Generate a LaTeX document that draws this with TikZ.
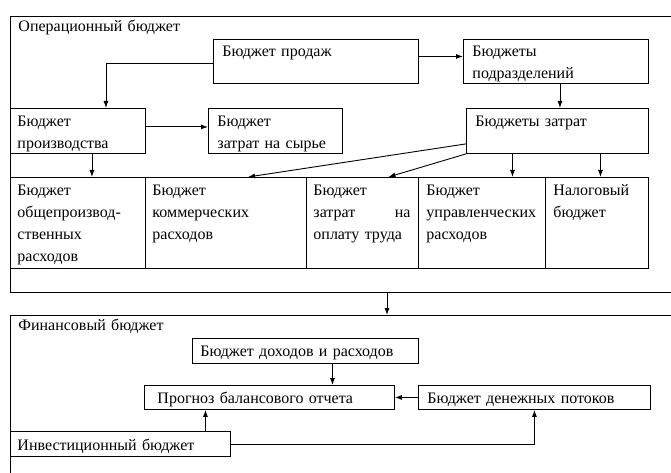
\documentclass[tikz,border=0pt]{standalone}
\usepackage{fontspec}
\setmainfont{Liberation Serif}
\usetikzlibrary{arrows.meta}
\begin{document}
\begin{tikzpicture}[x=1pt,y=-1pt,line width=0.9pt,>={Latex[length=7pt,width=5pt]},
    box/.style={draw, anchor=north west, inner sep=0pt},
    txt/.style={anchor=base west, align=left, inner sep=0pt, text width=#1},
    txt/.default=200pt,
    font=\fontsize{16}{22}\selectfont]
    \useasboundingbox (0,0) rectangle (671,473);
    % operating budget
    \node[box, minimum width=665, minimum height=276] (oper) at (10,16) {};
    \node[txt] (operT) at (18,32) {Операционный бюджет};
    \node[box, minimum width=205, minimum height=44] (sales) at (213,39) {};
    \node[txt] (salesT) at ([shift={(9pt,-18pt)}]sales.north west) {Бюджет продаж};
    \node[box, minimum width=185, minimum height=44] (dept) at (463,39) {};
    \node[txt] (deptT) at ([shift={(9pt,-18pt)}]dept.north west) {Бюджеты\\подразделений};
    \node[box, minimum width=135, minimum height=45] (prod) at (10,108) {};
    \node[txt] (prodT) at ([shift={(7pt,-19pt)}]prod.north west) {Бюджет\\производства};
    \node[box, minimum width=134, minimum height=45] (raw) at (208,108) {};
    \node[txt] (rawT) at ([shift={(9pt,-19pt)}]raw.north west) {Бюджет\\затрат на сырье};
    \node[box, minimum width=182, minimum height=45] (costs) at (466,108) {};
    \node[txt] (costsT) at ([shift={(9pt,-19pt)}]costs.north west) {Бюджеты затрат};
    % table of cost budgets
    \node[box, minimum width=135, minimum height=91] (c1) at (10,177) {};
    \node[txt] (c1T) at ([shift={(7pt,-18pt)}]c1.north west) {Бюджет\\общепроизвод-\\ственных\\расходов};
    \node[box, minimum width=161, minimum height=91] (c2) at (145,177) {};
    \node[txt] (c2T) at ([shift={(7pt,-18pt)}]c2.north west) {Бюджет\\коммерческих\\расходов};
    \node[box, minimum width=112, minimum height=91] (c3) at (306,177) {};
    \node[txt=97pt] (c3T) at ([shift={(7pt,-18pt)}]c3.north west) {Бюджет\\затрат\hfill на\\оплату труда};
    \node[box, minimum width=127, minimum height=91] (c4) at (418,177) {};
    \node[txt] (c4T) at ([shift={(8pt,-18pt)}]c4.north west) {Бюджет\\управленческих\\расходов};
    \node[box, minimum width=103, minimum height=91] (c5) at (545,177) {};
    \node[txt] (c5T) at ([shift={(8pt,-18pt)}]c5.north west) {Налоговый\\бюджет};
    \draw[->] ([yshift=-2pt]sales.west) -| ([xshift=28pt]prod.north);
    \draw[->] ([yshift=5pt]sales.east) -- ([yshift=5pt]dept.west);
    \draw[->] ([xshift=4pt]dept.south) -- ([xshift=4pt]dept.south |- costs.north);
    \draw[->] ([yshift=4pt]prod.east) -- ([yshift=4pt]raw.west);
    \draw[->] ([xshift=14pt]prod.south) -- ([xshift=14pt]prod.south |- c1.north);
    \draw[->] ([yshift=10pt]costs.south west) -- ([xshift=22pt]c2.north);
    \draw[->] (costs.south west) -- ([xshift=26pt]c3.north);
    \draw[->] ([xshift=-45pt]costs.south) -- ([xshift=-45pt]costs.south |- c4.north);
    \draw[->] ([xshift=43pt]costs.south) -- ([xshift=43pt]costs.south |- c5.north);
    % financial budget
    \node[box, minimum width=665, minimum height=170] (fin) at (10,315) {};
    \node[txt] (finT) at (18,330) {Финансовый бюджет};
    \coordinate (link) at (387,292);
    \draw[->] (link) -- (link |- fin.north);
    \node[box, minimum width=226, minimum height=25] (income) at (192,338) {};
    \node[txt] (incomeT) at ([shift={(8pt,-18pt)}]income.north west) {Бюджет доходов и расходов};
    \node[box, minimum width=250, minimum height=24] (forecast) at (144,385) {};
    \node[txt] (forecastT) at ([shift={(13pt,-18pt)}]forecast.north west) {Прогноз балансового отчета};
    \node[box, minimum width=232, minimum height=24] (cash) at (418,385) {};
    \node[txt] (cashT) at ([shift={(9pt,-18pt)}]cash.north west) {Бюджет денежных потоков};
    \node[box, minimum width=220, minimum height=25] (invest) at (10,431) {};
    \node[txt] (investT) at ([shift={(7pt,-19pt)}]invest.north west) {Инвестиционный бюджет};
    \draw[->] ([xshift=27pt]income.south) -- ([xshift=27pt]income.south |- forecast.north);
    \draw[->] (cash.west) -- (forecast.east);
    \draw[->] ([xshift=85pt]invest.north) -- ([xshift=85pt]invest.north |- forecast.south);
    \draw[->] (invest.east) -| (cash.south);
\end{tikzpicture}
\end{document}
